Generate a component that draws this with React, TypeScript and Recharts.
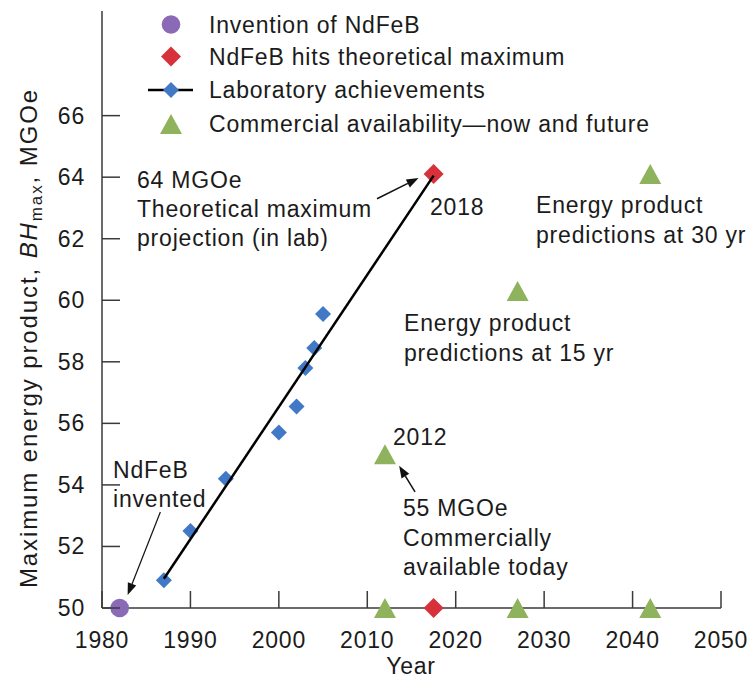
import { ScatterChart, Scatter, XAxis, YAxis, Legend, ReferenceLine } from "recharts";

// ---- data ----
const yearTicks = [1980, 1990, 2000, 2010, 2020, 2030, 2040, 2050];
const energyTicks = [50, 52, 54, 56, 58, 60, 62, 64, 66];

const inventionYears = [1982];
const inventionValues = [50];

const theoreticalYears = [2017.5, 2017.5];
const theoreticalValues = [64.1, 50];

const labYears = [1987, 1990, 1994, 2000, 2002, 2003, 2004, 2005];
const labValues = [50.9, 52.5, 54.2, 55.7, 56.55, 57.8, 58.45, 59.55];

const trendYears = [1987, 2017.5];
const trendValues = [50.95, 64.05];

const commercialYears = [2012, 2027, 2042, 2012, 2027, 2042];
const commercialValues = [55, 60.3, 64.1, 50, 50, 50];

const seriesNames = [
  "Invention of NdFeB",
  "NdFeB hits theoretical maximum",
  "Laboratory achievements",
  "Commercial availability\u2014now and future",
];

const zip = (xs: number[], ys: number[]) => xs.map((x, i) => ({ year: x, value: ys[i] }));

const inventionData = zip(inventionYears, inventionValues);
const theoreticalData = zip(theoreticalYears, theoreticalValues);
const labData = zip(labYears, labValues);
const trendData = zip(trendYears, trendValues);
const commercialData = zip(commercialYears, commercialValues);

// ---- styling ----
const FONT = '"Liberation Sans", Arial, Helvetica, sans-serif';
const TEXT = "#1b1b1b";
const AXIS = "#3a3a3a";
const PURPLE = "#8a69b6";
const RED = "#d7313b";
const BLUE = "#4279c7";
const GREEN = "#8fb25c";
const FS = 23;
const LS = 0.8;

// annotation arrows, in data coordinates
const arrows = [
  { from: { x: 1986.6, y: 53.12 }, to: { x: 1982.9, y: 50.42 }, w: 1.2 },
  { from: { x: 2015.4, y: 53.77 }, to: { x: 2013.6, y: 54.62 }, w: 1.5 },
  { from: { x: 2011.1, y: 63.3 }, to: { x: 2015.8, y: 63.97 }, w: 1.5 },
];

const notes: { t: string; x: number; y: number }[] = [
  { t: "64 MGOe", x: 137, y: 188 },
  { t: "Theoretical maximum", x: 137, y: 217 },
  { t: "projection (in lab)", x: 137, y: 246 },
  { t: "2018", x: 430, y: 215 },
  { t: "Energy product", x: 536, y: 213 },
  { t: "predictions at 30 yr", x: 536, y: 243 },
  { t: "Energy product", x: 404, y: 331 },
  { t: "predictions at 15 yr", x: 404, y: 361 },
  { t: "2012", x: 393, y: 445 },
  { t: "55 MGOe", x: 403, y: 516 },
  { t: "Commercially", x: 403, y: 546 },
  { t: "available today", x: 403, y: 575 },
  { t: "NdFeB", x: 113, y: 478 },
  { t: "invented", x: 113, y: 507 },
];

function Circle({ cx, cy }: any) {
  return <circle cx={cx} cy={cy} r={9.3} fill={PURPLE} />;
}

function Diamond({ cx, cy, r, fill }: { cx: number; cy: number; r: number; fill: string }) {
  return <polygon points={`${cx},${cy - r} ${cx + r},${cy} ${cx},${cy + r} ${cx - r},${cy}`} fill={fill} />;
}

function Triangle({ cx, cy }: any) {
  return <polygon points={`${cx},${cy - 10} ${cx + 11},${cy + 10} ${cx - 11},${cy + 10}`} fill={GREEN} />;
}

function Arrow(props: any) {
  const { x1, y1, x2, y2, strokeWidth } = props;
  const a = Math.atan2(y2 - y1, x2 - x1);
  const len = 12;
  const half = 4.5;
  const bx = x2 - len * Math.cos(a);
  const by = y2 - len * Math.sin(a);
  const px = -Math.sin(a) * half;
  const py = Math.cos(a) * half;
  return (
    <g>
      <line x1={x1} y1={y1} x2={bx} y2={by} stroke="#111" strokeWidth={strokeWidth} />
      <polygon points={`${x2},${y2} ${bx + px},${by + py} ${bx - px},${by - py}`} fill="#111" />
    </g>
  );
}

function YearTick({ x, y, payload }: any) {
  return (
    <g>
      <line x1={x} y1={y} x2={x} y2={y - 17} stroke={AXIS} strokeWidth={1.5} />
      <text x={x} y={y + 40} textAnchor="middle" fontFamily={FONT} fontSize={FS} fill={TEXT} letterSpacing={LS}>
        {payload.value}
      </text>
    </g>
  );
}

function EnergyTick({ x, y, payload }: any) {
  return (
    <g>
      <line x1={x} y1={y} x2={x + 18} y2={y} stroke={AXIS} strokeWidth={1.5} />
      <text x={x - 17} y={y + 8} textAnchor="end" fontFamily={FONT} fontSize={FS} fill={TEXT} letterSpacing={LS}>
        {payload.value}
      </text>
    </g>
  );
}

function LegendBox() {
  const rows = [24.5, 56.5, 90, 124];
  const ix = 171;
  return (
    <svg width={751} height={145} style={{ display: "block" }}>
      <circle cx={ix} cy={rows[0]} r={9.3} fill={PURPLE} />
      <Diamond cx={ix} cy={rows[1]} r={10} fill={RED} />
      <line x1={148} y1={rows[2]} x2={193} y2={rows[2]} stroke="#000" strokeWidth={2.5} />
      <Diamond cx={ix} cy={rows[2]} r={8} fill={BLUE} />
      <Triangle cx={ix} cy={rows[3]} />
      {seriesNames.map((n, i) => (
        <text key={n} x={209} y={rows[i] + 8.3} fontFamily={FONT} fontSize={FS} fill={TEXT} letterSpacing={LS}>
          {n}
        </text>
      ))}
    </svg>
  );
}

export default function App() {
  return (
    <div style={{ position: "absolute", left: 0, top: 0, width: 751, height: 681, background: "#fff" }}>
      <ScatterChart width={751} height={681} margin={{ top: 11, right: 30, bottom: 13, left: 40 }}>
        <XAxis
          type="number"
          dataKey="year"
          domain={[1980, 2050]}
          ticks={yearTicks}
          height={60}
          tickSize={0}
          tickMargin={0}
          tickLine={false}
          axisLine={{ stroke: AXIS, strokeWidth: 1.5 }}
          tick={<YearTick />}
          interval={0}
        />
        <YAxis
          type="number"
          dataKey="value"
          domain={[50, 69.4]}
          ticks={energyTicks}
          width={62}
          tickSize={0}
          tickMargin={0}
          tickLine={false}
          axisLine={{ stroke: AXIS, strokeWidth: 1.5 }}
          tick={<EnergyTick />}
          interval={0}
        />
        <Legend
          layout="vertical"
          align="center"
          verticalAlign="middle"
          wrapperStyle={{ left: 0, top: 0, width: 751 }}
          content={() => <LegendBox />}
        />
        {arrows.map((a, i) => (
          <ReferenceLine
            key={i}
            segment={[a.from, a.to]}
            ifOverflow="visible"
            strokeWidth={a.w}
            shape={(p: any) => <Arrow {...p} strokeWidth={a.w} />}
          />
        ))}
        <Scatter name={seriesNames[0]} data={inventionData} shape={<Circle />} isAnimationActive={false} />
        <Scatter
          name={seriesNames[2]}
          data={labData}
          shape={(p: any) => <Diamond cx={p.cx} cy={p.cy} r={8} fill={BLUE} />}
          isAnimationActive={false}
        />
        <Scatter name={seriesNames[3]} data={commercialData} shape={<Triangle />} isAnimationActive={false} />
        <Scatter
          name={seriesNames[1]}
          data={theoreticalData}
          shape={(p: any) => <Diamond cx={p.cx} cy={p.cy} r={10} fill={RED} />}
          isAnimationActive={false}
        />
        <Scatter
          name="trend"
          data={trendData}
          line={{ stroke: "#000", strokeWidth: 2.5 }}
          shape={() => <g />}
          legendType="none"
          isAnimationActive={false}
        />
      </ScatterChart>
      <svg
        width={751}
        height={681}
        style={{ position: "absolute", left: 0, top: 0, pointerEvents: "none" }}
      >
        <text
          transform="rotate(-90, 37, 338)"
          x={37}
          y={338}
          textAnchor="middle"
          fontFamily={FONT}
          fontSize={24}
          fill={TEXT}
          letterSpacing={1.9}
        >
          Maximum energy product, <tspan fontStyle="italic">BH</tspan>
          <tspan fontSize={17} dy={5}>max</tspan>
          <tspan dy={-5}>, MGOe</tspan>
        </text>
        <text x={411} y={674} textAnchor="middle" fontFamily={FONT} fontSize={FS} fill={TEXT} letterSpacing={LS}>
          Year
        </text>
        {notes.map((n, i) => (
          <text key={i} x={n.x} y={n.y} fontFamily={FONT} fontSize={FS} fill={TEXT} letterSpacing={LS}>
            {n.t}
          </text>
        ))}
      </svg>
    </div>
  );
}
